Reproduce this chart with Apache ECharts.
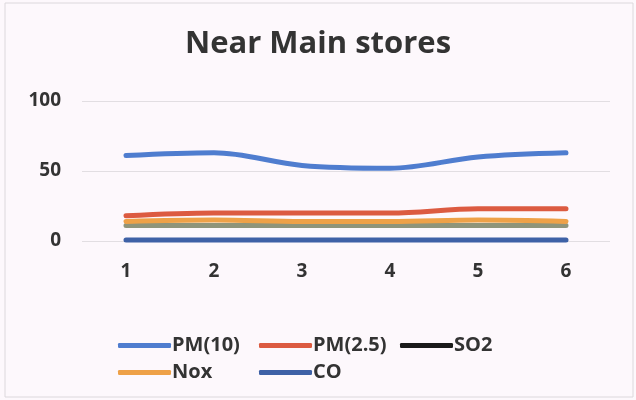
<!DOCTYPE html>
<html>
<head>
<meta charset="utf-8">
<script src="https://cdn.jsdelivr.net/npm/echarts@6/dist/echarts.min.js"></script>
<style>
  html, body { margin: 0; padding: 0; background: #fdf8fc; }
  #main { width: 636px; height: 400px; }
</style>
</head>
<body>
<div id="main"></div>
<script>
  // categories (sample points)
  let categories = ['1', '2', '3', '4', '5', '6'];
  // series values
  let pm10 = [61, 63, 54, 52, 60, 63];
  let pm25 = [18, 20, 20, 20, 23, 23];
  let so2 = [11, 11, 11, 11, 11, 11];
  let nox = [14, 15, 14, 14, 15, 14];
  let co = [0.8, 0.8, 0.8, 0.8, 0.8, 0.8];
  let names = ['PM(10)', 'PM(2.5)', 'SO2', 'Nox', 'CO'];
  let colors = ['#4f7dcf', '#dc5b41', '#8f947a', '#eea148', '#3e61a6'];

  let myChart = echarts.init(document.getElementById('main'));

  function lineSeries(name, data, color) {
    return {
      name: name,
      type: 'line',
      smooth: 0.35,
      symbol: 'none',
      data: data,
      lineStyle: { width: 5, color: color, cap: 'round' },
      itemStyle: { color: color }
    };
  }

  let option = {
    backgroundColor: '#fdf8fc',
    textStyle: { fontFamily: 'Open Sans', fontWeight: 'bold', color: '#404040' },
    graphic: [{
      type: 'rect',
      shape: { x: 5, y: 3, width: 628, height: 394 },
      style: { fill: 'none', stroke: '#dcd8dc', lineWidth: 1 },
      silent: true
    }],
    title: {
      text: 'Near Main stores',
      left: 'center',
      top: 24,
      textStyle: { fontFamily: 'Open Sans', fontSize: 31, fontWeight: 'bold', color: '#333333' }
    },
    grid: { left: 82, right: 26, top: 101, bottom: 159 },
    legend: {
      data: names.map(function (n) {
        // SO2 legend icon is black in the picture
        if (n === 'SO2') return { name: n, itemStyle: { color: '#1a1a1a' } };
        return { name: n };
      }),
      icon: 'roundRect',
      left: 113,
      top: 327,
      width: 432,
      itemGap: 0,
      itemWidth: 53,
      itemHeight: 5,
      textStyle: {
        fontFamily: 'Open Sans', fontWeight: 'bold', fontSize: 20, color: '#333333',
        width: 87, height: 27, lineHeight: 27, padding: [0, 0, 0, -4]
      }
    },
    xAxis: {
      type: 'category',
      data: categories,
      boundaryGap: true,
      axisLine: { show: false },
      axisTick: { show: false },
      axisLabel: { fontSize: 19, fontWeight: 'bold', color: '#333333', margin: 21, fontFamily: 'Open Sans' }
    },
    yAxis: {
      type: 'value',
      min: 0,
      max: 100,
      interval: 50,
      axisLine: { show: false },
      axisTick: { show: false },
      axisLabel: { fontSize: 19, fontWeight: 'bold', color: '#333333', margin: 21, fontFamily: 'Open Sans' },
      splitLine: { lineStyle: { color: '#e2dee2', width: 1 } }
    },
    series: [
      lineSeries(names[0], pm10, colors[0]),
      lineSeries(names[1], pm25, colors[1]),
      lineSeries(names[2], so2, colors[2]),
      lineSeries(names[3], nox, colors[3]),
      lineSeries(names[4], co, colors[4])
    ]
  };
  myChart.setOption(option);
</script>
</body>
</html>
